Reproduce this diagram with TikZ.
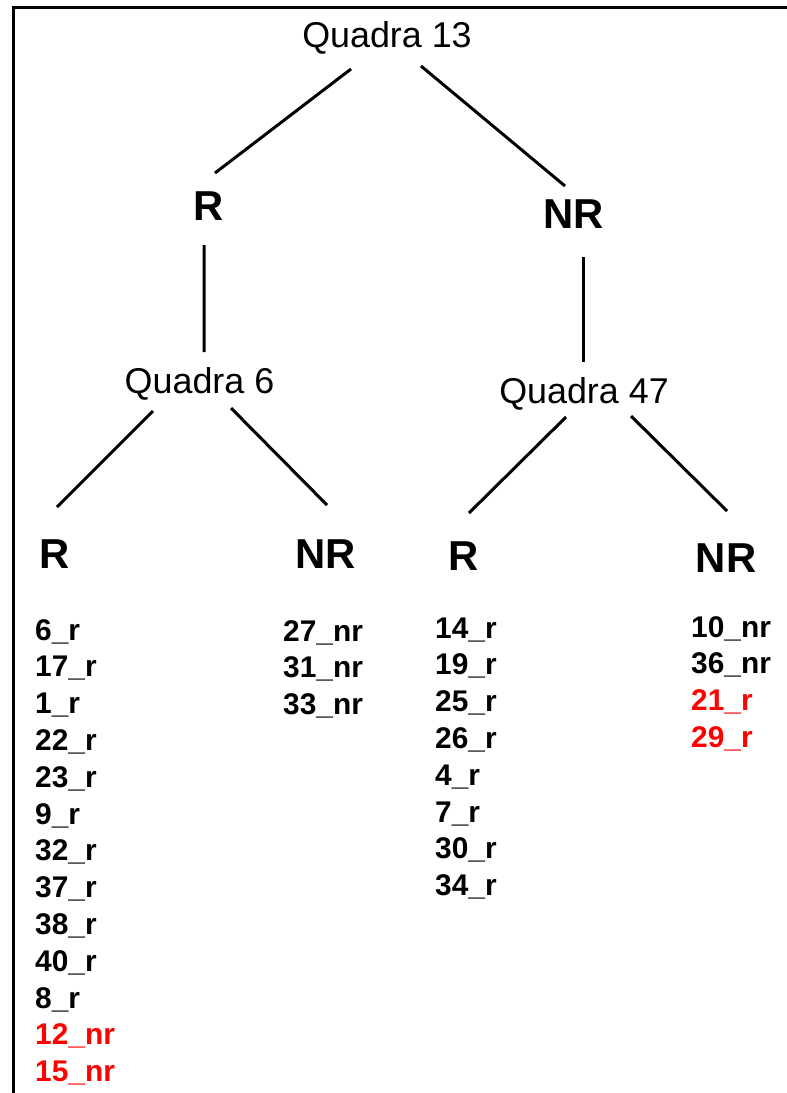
\documentclass[tikz,border=0pt]{standalone}
\usepackage{xcolor}
\usepackage{fontspec}
\setmainfont{Liberation Sans}
\usepackage{tikz}
\usetikzlibrary{calc}

\begin{document}
\begin{tikzpicture}[x=1bp, y=-1bp,
  quadra/.style={font=\fontsize{36}{40}\selectfont, anchor=base, inner sep=0pt},
  branch/.style={font=\bfseries\fontsize{42}{48}\selectfont, anchor=base, inner sep=0pt},
  item/.style={font=\bfseries\fontsize{30}{34}\selectfont, anchor=base west, inner sep=0pt},
  edge/.style={line width=3bp}
]

% 尺寸
\def\rowh{36.8}   % 列表行距
\def\rowy{640}    % 列表第一行基线

\useasboundingbox (0,0) rectangle (787,1093);

% 外框(上边与左边)
\draw[edge] (13.5,1093) -- (13.5,7.5) -- (787,7.5);

% 树的节点
\node[quadra] (q13) at (387,47) {Quadra 13};
\node[branch] (r1) at (209,220) {R};
\node[branch] (nr1) at (574,228) {NR};
\node[quadra] (q6) at (199.5,393) {Quadra 6};
\node[quadra] (q47) at (584,403) {Quadra 47};
\node[branch] (r6) at (55,568) {R};
\node[branch] (nr6) at (326,568) {NR};
\node[branch] (r47) at (464,570) {R};
\node[branch] (nr47) at (726,572) {NR};

% 连线
\draw[edge] ($(q13.base)+(-36,22)$) -- ($(r1.base)+(6,-47)$);
\draw[edge] ($(q13.base)+(34,19)$) -- ($(nr1.base)+(-9,-42)$);
\draw[edge] ($(r1.base)+(-5,25)$) -- ($(q6.base)+(4.5,-41)$);
\draw[edge] ($(nr1.base)+(9,29)$) -- ($(q47.base)+(-1,-41)$);
\draw[edge] ($(q6.base)+(-46.5,18)$) -- ($(r6.base)+(2,-61)$);
\draw[edge] ($(q6.base)+(31.5,15)$) -- ($(nr6.base)+(1,-63)$);
\draw[edge] ($(q47.base)+(-18,14)$) -- ($(r47.base)+(5,-57)$);
\draw[edge] ($(q47.base)+(47,13)$) -- ($(nr47.base)+(1,-61)$);

% 各叶子下的列表
\foreach \t/\c [count=\i from 0] in {6\_r/black, 17\_r/black, 1\_r/black,
    22\_r/black, 23\_r/black, 9\_r/black, 32\_r/black, 37\_r/black,
    38\_r/black, 40\_r/black, 8\_r/black, 12\_nr/red, 15\_nr/red}
  \node[item, text=\c] (q6r\i) at (35, \rowy+\i*\rowh) {\t};

\foreach \t [count=\i from 0] in {27\_nr, 31\_nr, 33\_nr}
  \node[item] (q6nr\i) at (283, \rowy+1+\i*\rowh) {\t};

\foreach \t [count=\i from 0] in {14\_r, 19\_r, 25\_r, 26\_r, 4\_r, 7\_r, 30\_r, 34\_r}
  \node[item] (q47r\i) at (435, \rowy-2+\i*\rowh) {\t};

\foreach \t/\c [count=\i from 0] in {10\_nr/black, 36\_nr/black, 21\_r/red, 29\_r/red}
  \node[item, text=\c] (q47nr\i) at (691, \rowy-3+\i*\rowh) {\t};

\end{tikzpicture}
\end{document}
